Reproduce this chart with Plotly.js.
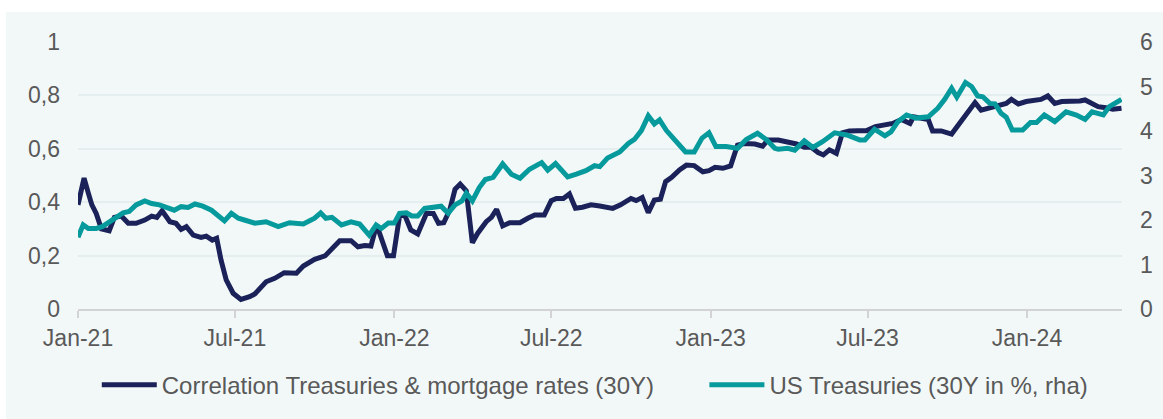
<!DOCTYPE html>
<html><head><meta charset="utf-8">
<script src="https://cdn.plot.ly/plotly-3.0.1.min.js"></script>
<style>
html,body{margin:0;padding:0;background:#ffffff;}
#chart{position:absolute;left:6px;top:12px;width:1157px;height:407px;}
</style></head><body><div id="chart"></div>
<script>
const corrName = 'Correlation Treasuries & mortgage rates (30Y)';
const ustName = 'US Treasuries (30Y in %, rha)';

const corrDates = ['2021-01-01','2021-01-08','2021-01-13','2021-01-17','2021-01-22','2021-01-28','2021-02-06','2021-02-12','2021-02-20','2021-02-28','2021-03-09','2021-03-19','2021-03-27','2021-04-02','2021-04-08','2021-04-17','2021-04-24','2021-04-30','2021-05-06','2021-05-14','2021-05-23','2021-05-29','2021-06-05','2021-06-10','2021-06-15','2021-06-21','2021-06-29','2021-07-08','2021-07-18','2021-07-24','2021-08-06','2021-08-16','2021-08-27','2021-09-10','2021-09-18','2021-10-01','2021-10-13','2021-10-22','2021-10-30','2021-11-12','2021-11-20','2021-11-28','2021-12-05','2021-12-10','2021-12-14','2021-12-24','2021-12-31','2022-01-07','2022-01-13','2022-01-20','2022-01-28','2022-02-07','2022-02-15','2022-02-21','2022-02-27','2022-03-06','2022-03-12','2022-03-18','2022-03-25','2022-04-01','2022-04-07','2022-04-17','2022-04-23','2022-04-29','2022-05-06','2022-05-14','2022-05-26','2022-06-04','2022-06-12','2022-06-23','2022-07-01','2022-07-07','2022-07-15','2022-07-22','2022-07-29','2022-08-06','2022-08-16','2022-08-26','2022-09-10','2022-09-19','2022-10-01','2022-10-07','2022-10-14','2022-10-21','2022-10-28','2022-11-04','2022-11-10','2022-11-17','2022-11-26','2022-12-04','2022-12-13','2022-12-23','2022-12-30','2023-01-06','2023-01-15','2023-01-24','2023-02-01','2023-02-09','2023-02-21','2023-03-02','2023-03-08','2023-03-20','2023-03-31','2023-04-10','2023-04-19','2023-04-27','2023-05-05','2023-05-11','2023-05-18','2023-05-26','2023-06-02','2023-06-10','2023-06-20','2023-06-30','2023-07-10','2023-07-21','2023-07-30','2023-08-09','2023-08-19','2023-08-23','2023-09-01','2023-09-09','2023-09-14','2023-09-24','2023-10-06','2023-10-15','2023-10-25','2023-11-02','2023-11-09','2023-11-17','2023-11-28','2023-12-08','2023-12-14','2023-12-22','2023-12-31','2024-01-09','2024-01-17','2024-01-25','2024-02-02','2024-02-10','2024-02-21','2024-03-02','2024-03-08','2024-03-16','2024-03-23','2024-04-01','2024-04-09','2024-04-19'];
const corrValues = [0.39,0.49,0.433,0.39,0.358,0.30,0.293,0.343,0.348,0.321,0.321,0.333,0.348,0.343,0.368,0.327,0.321,0.298,0.308,0.277,0.268,0.273,0.258,0.265,0.184,0.109,0.059,0.036,0.046,0.056,0.102,0.115,0.136,0.134,0.161,0.186,0.199,0.227,0.256,0.256,0.233,0.238,0.236,0.296,0.293,0.199,0.199,0.348,0.352,0.296,0.281,0.358,0.358,0.321,0.323,0.371,0.448,0.468,0.443,0.248,0.283,0.327,0.343,0.373,0.311,0.323,0.323,0.34,0.352,0.352,0.406,0.414,0.414,0.431,0.377,0.381,0.39,0.386,0.377,0.39,0.414,0.406,0.418,0.361,0.408,0.411,0.477,0.493,0.521,0.539,0.537,0.514,0.518,0.531,0.527,0.536,0.614,0.62,0.618,0.61,0.633,0.633,0.627,0.618,0.606,0.606,0.586,0.577,0.596,0.583,0.66,0.667,0.668,0.668,0.683,0.689,0.695,0.71,0.695,0.72,0.714,0.71,0.667,0.667,0.655,0.695,0.739,0.773,0.745,0.752,0.766,0.77,0.785,0.768,0.777,0.783,0.785,0.798,0.77,0.777,0.777,0.779,0.783,0.77,0.758,0.754,0.748,0.752];

const ustDates = ['2021-01-01','2021-01-07','2021-01-13','2021-01-22','2021-01-29','2021-02-06','2021-02-14','2021-02-22','2021-03-01','2021-03-09','2021-03-19','2021-03-27','2021-04-05','2021-04-15','2021-04-22','2021-04-30','2021-05-08','2021-05-16','2021-05-25','2021-06-04','2021-06-11','2021-06-19','2021-06-27','2021-07-05','2021-07-12','2021-07-24','2021-08-06','2021-08-20','2021-09-02','2021-09-18','2021-10-01','2021-10-08','2021-10-14','2021-10-21','2021-11-01','2021-11-12','2021-11-22','2021-12-03','2021-12-11','2021-12-17','2021-12-25','2022-01-01','2022-01-07','2022-01-15','2022-01-21','2022-01-28','2022-02-05','2022-02-19','2022-02-24','2022-03-04','2022-03-12','2022-03-20','2022-03-25','2022-04-01','2022-04-09','2022-04-16','2022-04-25','2022-05-06','2022-05-16','2022-05-26','2022-06-06','2022-06-20','2022-06-27','2022-07-06','2022-07-20','2022-07-30','2022-08-10','2022-08-20','2022-08-26','2022-09-04','2022-09-18','2022-09-28','2022-10-05','2022-10-13','2022-10-21','2022-10-28','2022-11-03','2022-11-11','2022-11-18','2022-11-26','2022-12-03','2022-12-13','2022-12-22','2022-12-30','2023-01-07','2023-01-19','2023-02-01','2023-02-11','2023-02-24','2023-03-06','2023-03-16','2023-03-20','2023-03-31','2023-04-08','2023-04-19','2023-04-29','2023-05-10','2023-05-24','2023-06-07','2023-06-22','2023-06-28','2023-07-09','2023-07-21','2023-07-28','2023-08-05','2023-08-15','2023-08-26','2023-09-09','2023-09-20','2023-09-28','2023-10-06','2023-10-12','2023-10-22','2023-10-29','2023-11-05','2023-11-11','2023-11-19','2023-11-25','2023-12-02','2023-12-08','2023-12-15','2023-12-27','2024-01-05','2024-01-12','2024-01-21','2024-02-02','2024-02-15','2024-02-27','2024-03-08','2024-03-16','2024-03-29','2024-04-05','2024-04-19'];
const ustValues = [1.61,1.89,1.81,1.81,1.85,1.96,2.06,2.16,2.19,2.34,2.43,2.37,2.34,2.26,2.22,2.30,2.28,2.36,2.31,2.22,2.11,1.98,2.15,2.04,2.0,1.93,1.96,1.85,1.94,1.91,2.04,2.16,2.04,2.06,1.89,1.96,1.91,1.66,1.89,1.81,1.93,1.93,2.15,2.16,2.09,2.09,2.26,2.29,2.31,2.15,2.34,2.43,2.60,2.43,2.73,2.91,2.96,3.26,3.03,2.94,3.14,3.29,3.12,3.27,2.97,3.03,3.11,3.22,3.20,3.39,3.53,3.72,3.81,4.01,4.34,4.16,4.25,4.01,3.87,3.69,3.53,3.53,3.84,3.96,3.65,3.65,3.61,3.81,3.95,3.81,3.61,3.59,3.61,3.57,3.78,3.63,3.76,3.96,3.91,3.80,3.80,4.04,3.89,3.98,4.21,4.36,4.29,4.32,4.51,4.71,4.96,4.76,5.09,5.00,4.79,4.77,4.62,4.61,4.40,4.31,4.02,4.02,4.19,4.19,4.36,4.21,4.43,4.36,4.26,4.43,4.36,4.55,4.71];

const navy = '#1b2259';
const teal = '#079a9c';
const panel = '#f2f8f8';
const textColor = '#595959';
const fontFam = '"Liberation Sans", Arial, sans-serif';

const traces = [
  {x: corrDates, y: corrValues, name: corrName, type: 'scatter', mode: 'lines',
   line: {color: navy, width: 5}, yaxis: 'y', legend: 'legend'},
  {x: ustDates, y: ustValues, name: ustName, type: 'scatter', mode: 'lines',
   line: {color: teal, width: 5}, yaxis: 'y2', legend: 'legend2'}
];

const legendBase = {orientation: 'h', y: -0.285, xanchor: 'left', yanchor: 'middle',
  bgcolor: 'rgba(0,0,0,0)', font: {size: 24, color: textColor}, itemwidth: 55};

const layout = {
  width: 1157, height: 407,
  margin: {l: 72, r: 41, t: 30, b: 110},
  paper_bgcolor: panel, plot_bgcolor: panel,
  separators: ', ',
  font: {family: fontFam, size: 23, color: textColor},
  showlegend: true,
  legend: Object.assign({}, legendBase, {x: 0.018}),
  legend2: Object.assign({}, legendBase, {x: 0.6}),
  xaxis: {type: 'date', range: ['2021-01-01', '2024-04-19 14:00'],
          tick0: '2021-01-01', dtick: 'M6', tickformat: '%b-%y',
          ticks: 'outside', ticklen: 7, tickwidth: 1.5, tickcolor: '#d3d3d3',
          showline: true, linecolor: '#d3d3d3', linewidth: 2,
          showgrid: false, zeroline: false, ticklabelstandoff: 0,
          tickfont: {size: 23, color: textColor}},
  yaxis: {range: [0, 1], dtick: 0.2, tick0: 0, showgrid: true, gridcolor: '#e4eeee', gridwidth: 2,
          zeroline: false, showline: false, ticks: '', ticklabelstandoff: 17,
          tickfont: {size: 23, color: textColor}},
  yaxis2: {range: [0, 6], dtick: 1, tick0: 0, overlaying: 'y', side: 'right',
           showgrid: false, zeroline: false, showline: false, ticks: '', ticklabelstandoff: 17,
           tickfont: {size: 23, color: textColor}}
};

Plotly.newPlot('chart', traces, layout, {displayModeBar: false, responsive: false});
</script>
</body></html>
